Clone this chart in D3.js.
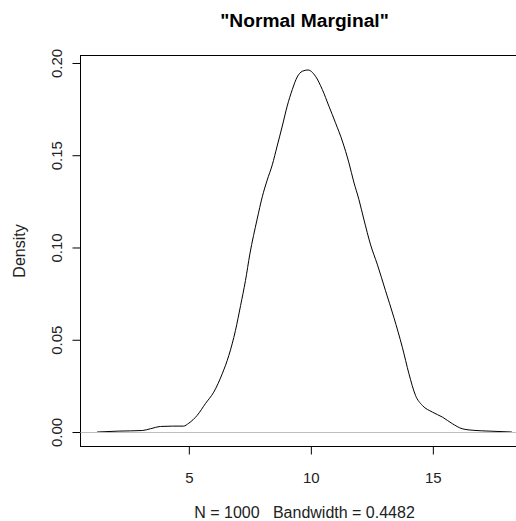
<!DOCTYPE html>
<html>
<head>
<meta charset="utf-8">
<script src="https://cdn.jsdelivr.net/npm/d3@7"></script>
<style>
  html, body { margin: 0; padding: 0; background: #fff; }
  svg { display: block; font-family: 'Liberation Sans', Arial, sans-serif; }
</style>
</head>
<body>
<div id="chart"></div>
<script>
// --- Data ---
const densityX = [1.24, 2.13, 3.09, 3.43, 3.84, 4.33, 4.78, 5.00, 5.34, 5.68, 6.02, 6.37, 6.64, 6.91,
  7.12, 7.32, 7.50, 7.80, 8.01, 8.21, 8.42, 8.62, 8.83, 9.03, 9.24, 9.44, 9.65, 9.88, 10.19, 10.47,
  10.74, 11.01, 11.29, 11.56, 11.76, 11.97, 12.17, 12.45, 12.72, 13.06, 13.40, 13.75, 14.02, 14.29,
  14.57, 14.98, 15.39, 15.80, 16.20, 16.68, 17.30, 18.24];
const densityY = [0.0000, 0.0005, 0.0008, 0.0018, 0.0030, 0.0032, 0.0032, 0.0048, 0.0090, 0.0154,
  0.0216, 0.0316, 0.0415, 0.0550, 0.0685, 0.0820, 0.0964, 0.1154, 0.1275, 0.1365, 0.1448, 0.1550,
  0.1658, 0.1766, 0.1856, 0.1924, 0.1955, 0.1962, 0.1928, 0.1856, 0.1766, 0.1676, 0.1577, 0.1459,
  0.1355, 0.1260, 0.1154, 0.1014, 0.0910, 0.0766, 0.0622, 0.0459, 0.0316, 0.0198, 0.0144, 0.0108,
  0.0081, 0.0045, 0.0018, 0.0009, 0.0005, 0.0000];
const xTicks = [5, 10, 15];
const yTicks = [0, 0.05, 0.10, 0.15, 0.20];
const yTickLabels = ['0.00', '0.05', '0.10', '0.15', '0.20'];
const titleText = '"Normal Marginal"';
const xLabelText = 'N = 1000   Bandwidth = 0.4482';
const yLabelText = 'Density';

// --- Layout ---
const width = 516;
const height = 521;
const plot = { left: 80.5, right: 528.5, top: 55.5, bottom: 446.5 };
const font = "'Liberation Sans', Arial, sans-serif";

const points = densityX.map((x, i) => ({ x, y: densityY[i] }));

// R pads the data range by 4% on each side
const xPad = (d3.max(densityX) - d3.min(densityX)) * 0.04;
const yMax = d3.max(densityY);
const x = d3.scaleLinear()
    .domain([d3.min(densityX) - xPad, d3.max(densityX) + xPad])
    .range([plot.left, plot.right]);
const y = d3.scaleLinear()
    .domain([-yMax * 0.04, yMax * 1.04])
    .range([plot.bottom, plot.top]);

const svg = d3.create('svg')
    .attr('width', width)
    .attr('height', height);

// --- Box around plot region ---
svg.append('rect')
    .attr('x', plot.left)
    .attr('y', plot.top)
    .attr('width', plot.right - plot.left)
    .attr('height', plot.bottom - plot.top)
    .attr('fill', 'none')
    .attr('stroke', '#000')
    .attr('stroke-width', 1);

// --- Axes ---
const xAxis = svg.append('g')
    .attr('transform', `translate(0,${plot.bottom})`)
    .call(d3.axisBottom(x).tickValues(xTicks).tickSize(8).tickFormat(d3.format('d')));
xAxis.select('.domain').remove();
xAxis.selectAll('.tick line').attr('stroke', '#000');
xAxis.selectAll('.tick text')
    .attr('y', 36)
    .attr('dy', 0)
    .attr('fill', '#222')
    .style('font-size', '15px')
    .style('font-family', font);

const yAxis = svg.append('g')
    .attr('transform', `translate(${plot.left},0)`)
    .call(d3.axisLeft(y).tickValues(yTicks).tickSize(8).tickFormat((d, i) => yTickLabels[i]));
yAxis.select('.domain').remove();
yAxis.selectAll('.tick line').attr('stroke', '#000');
yAxis.selectAll('.tick text')
    .attr('transform', 'rotate(-90)')
    .attr('x', 0)
    .attr('y', -19)
    .attr('dy', 0)
    .attr('text-anchor', 'middle')
    .attr('fill', '#222')
    .style('font-size', '15px')
    .style('font-family', font);

// --- Density curve ---
const line = d3.line()
    .x(d => x(d.x))
    .y(d => y(d.y))
    .curve(d3.curveMonotoneX);

svg.append('path')
    .datum(points)
    .attr('d', line)
    .attr('fill', 'none')
    .attr('stroke', '#000')
    .attr('stroke-width', 1);

// zero line drawn over the curve, as plot.density does
svg.append('line')
    .attr('x1', plot.left)
    .attr('x2', plot.right)
    .attr('y1', Math.round(y(0)) + 0.5)
    .attr('y2', Math.round(y(0)) + 0.5)
    .attr('stroke', '#bebebe')
    .attr('stroke-width', 1);

// --- Titles ---
const midX = (plot.left + plot.right) / 2;
svg.append('text')
    .attr('x', midX)
    .attr('y', 26.7)
    .attr('text-anchor', 'middle')
    .style('font-size', '19.2px')
    .style('font-weight', 'bold')
    .text(titleText);

svg.append('text')
    .attr('x', midX)
    .attr('y', 518)
    .attr('text-anchor', 'middle')
    .attr('fill', '#222')
    .style('font-size', '16px')
    .style('white-space', 'pre')
    .attr('xml:space', 'preserve')
    .text(xLabelText);

svg.append('text')
    .attr('transform', `translate(25,${(plot.top + plot.bottom) / 2}) rotate(-90)`)
    .attr('text-anchor', 'middle')
    .attr('fill', '#222')
    .style('font-size', '16px')
    .text(yLabelText);

document.querySelector('#chart').append(svg.node());
</script>
</body>
</html>
